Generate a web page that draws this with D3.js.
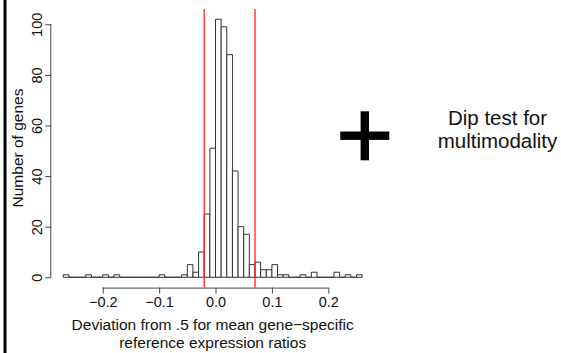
<!DOCTYPE html>
<html>
<head>
<meta charset="utf-8">
<script src="https://cdn.jsdelivr.net/npm/d3@7"></script>
<style>
  body { margin: 0; background: #fff; }
  svg { display: block; font-family: "Liberation Sans", Arial, sans-serif; }
</style>
</head>
<body>
<div id="chart"></div>
<script>
// histogram breaks (bin edges) and counts per bin
const breaks = [-0.27, -0.26, -0.25, -0.24, -0.23, -0.22, -0.21, -0.20, -0.19, -0.18,
  -0.17, -0.16, -0.15, -0.14, -0.13, -0.12, -0.11, -0.10, -0.09, -0.08,
  -0.07, -0.06, -0.05, -0.04, -0.03, -0.02, -0.01, 0.00, 0.01, 0.02,
  0.03, 0.04, 0.05, 0.06, 0.07, 0.08, 0.09, 0.10, 0.11, 0.12,
  0.13, 0.14, 0.15, 0.16, 0.17, 0.18, 0.19, 0.20, 0.21, 0.22,
  0.23, 0.24, 0.25, 0.26];
const counts = [1, 0, 0, 0, 1, 0, 0, 1, 0, 1,
  0, 0, 0, 0, 0, 0, 0, 1, 0, 0,
  0, 1, 5, 2, 10, 25, 51, 102, 99, 88,
  42, 20, 17, 5, 6, 3, 3, 5, 1, 1,
  0, 0, 1, 0, 2, 0, 0, 0, 2, 0,
  1, 0, 1];
const cutoffs = [-0.02, 0.07];
const xTicks = [-0.2, -0.1, 0.0, 0.1, 0.2];
const yTicks = [0, 20, 40, 60, 80, 100];
const xLabel = ['Deviation from .5 for mean gene\u2212specific', 'reference expression ratios'];
const yLabel = 'Number of genes';
const sideNote = ['Dip test for', 'multimodality'];

const W = 561, H = 353;
const svg = d3.select('#chart').append('svg')
  .attr('width', W).attr('height', H);

// R style: plot region extends 4% beyond data range
const xr = breaks[breaks.length - 1] - breaks[0];
const x = d3.scaleLinear()
  .domain([breaks[0] - 0.04 * xr, breaks[breaks.length - 1] + 0.04 * xr])
  .range([51.3, 374.1]);
const yMax = d3.max(counts);
const y = d3.scaleLinear()
  .domain([-0.04 * yMax, yMax * 1.04])
  .range([287.6, 8.9]);

// left border bar
svg.append('rect').attr('x', 3.5).attr('y', 0).attr('width', 3).attr('height', H).attr('fill', '#000');

// bars (paths so that empty bins still draw a baseline)
const bins = counts.map((c, i) => ({ x0: breaks[i], x1: breaks[i + 1], n: c }));
svg.append('g').selectAll('path')
  .data(bins)
  .join('path')
  .attr('d', d => `M${x(d.x0)},${y(0)}V${y(d.n)}H${x(d.x1)}V${y(0)}Z`)
  .attr('fill', '#fff')
  .attr('stroke', '#333')
  .attr('stroke-width', 1);

// cutoff lines
svg.append('g').selectAll('line')
  .data(cutoffs)
  .join('line')
  .attr('x1', d => x(d)).attr('x2', d => x(d))
  .attr('y1', y.range()[1]).attr('y2', y.range()[0])
  .attr('stroke', '#ff2020')
  .attr('stroke-width', 1.3);

// axes
const fmt = d => d3.format('.1f')(d).replace('-', '\u2212');
const xAxis = svg.append('g')
  .attr('transform', `translate(0,${y.range()[0]})`)
  .call(d3.axisBottom(x).tickValues(xTicks).tickFormat(fmt).tickSize(6).tickSizeOuter(0).tickPadding(3));
xAxis.select('.domain').attr('d', `M${x(xTicks[0])},0.5H${x(xTicks[xTicks.length - 1])}`);

const yAxis = svg.append('g')
  .attr('transform', `translate(${x.range()[0]},0)`)
  .call(d3.axisLeft(y).tickValues(yTicks).tickSize(6).tickSizeOuter(0));
yAxis.select('.domain').attr('d', `M-0.5,${y(yTicks[0])}V${y(yTicks[yTicks.length - 1])}`);
yAxis.selectAll('.tick text')
  .attr('x', null).attr('dy', null)
  .attr('text-anchor', 'middle')
  .attr('transform', 'translate(-9.5,0) rotate(-90)');

svg.selectAll('.domain, .tick line').attr('stroke', '#444');
svg.selectAll('.tick text').attr('font-size', 14.5).attr('fill', '#111').attr('font-family', null);

// axis titles
svg.append('text')
  .attr('x', 212.7).attr('text-anchor', 'middle')
  .attr('font-size', 15.5).attr('fill', '#111')
  .selectAll('tspan').data(xLabel).join('tspan')
  .attr('x', 212.7).attr('y', (d, i) => 329.5 + i * 18.7)
  .text(d => d);

svg.append('text')
  .attr('transform', 'translate(22.5,148) rotate(-90)')
  .attr('text-anchor', 'middle')
  .attr('font-size', 15.5).attr('fill', '#111')
  .text(yLabel);

// plus sign
const plus = svg.append('g').attr('fill', '#000');
plus.append('rect').attr('x', 340.3).attr('y', 131.5).attr('width', 49).attr('height', 8.4);
plus.append('rect').attr('x', 360.6).attr('y', 111.3).attr('width', 8.4).attr('height', 49);

svg.append('text')
  .attr('text-anchor', 'middle')
  .attr('font-size', 20.5).attr('fill', '#111')
  .selectAll('tspan').data(sideNote).join('tspan')
  .attr('x', 497.5).attr('y', (d, i) => 125 + i * 23.3)
  .text(d => d);
</script>
</body>
</html>
